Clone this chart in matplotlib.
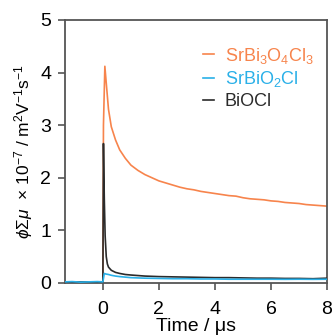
import matplotlib
matplotlib.use("Agg")
import matplotlib.pyplot as plt

plt.rcParams['font.family'] = ['Liberation Sans', 'DejaVu Sans']
plt.rcParams['mathtext.fontset'] = 'custom'
plt.rcParams['mathtext.rm'] = 'Liberation Sans'
plt.rcParams['mathtext.it'] = 'Liberation Sans:italic'

labels = ['SrBi$_3$O$_4$Cl$_3$', 'SrBiO$_2$Cl', 'BiOCl']
colors = ['#F7844C', '#2AB0E8', '#2B2B2B']

t_orange = [-1.35, -0.01, 0.0, 0.02, 0.07, 0.12, 0.2, 0.3, 0.45, 0.6, 0.8, 1.0,
            1.25, 1.5, 1.75, 2.0, 2.25, 2.5, 2.75, 3.0, 3.25, 3.5, 3.75, 4.0,
            4.25, 4.5, 4.75, 5.0, 5.25, 5.5, 5.75, 6.0, 6.25, 6.5, 6.75, 7.0,
            7.25, 7.5, 7.75, 8.0]
y_orange = [0.0, 0.0, 0.0, 3.0, 4.12, 3.8, 3.3, 2.97, 2.72, 2.53, 2.37, 2.24,
            2.14, 2.06, 2.00, 1.94, 1.90, 1.86, 1.82, 1.79, 1.77, 1.74, 1.72, 1.70,
            1.68, 1.66, 1.65, 1.62, 1.60, 1.59, 1.58, 1.56, 1.55, 1.53, 1.52, 1.51,
            1.49, 1.48, 1.47, 1.46]

t_black = [-1.35, -0.01, 0.0, 0.02, 0.05, 0.08, 0.12, 0.16, 0.2, 0.3, 0.45, 0.6,
           0.8, 1.0, 1.5, 2.0, 2.5, 3.0, 3.5, 4.0, 4.5, 5.0, 5.5, 6.0, 6.5, 7.0,
           7.5, 8.0]
y_black = [0.02, 0.02, 0.02, 2.65, 1.6, 0.9, 0.5, 0.36, 0.3, 0.24, 0.2, 0.18,
           0.16, 0.15, 0.13, 0.12, 0.115, 0.11, 0.105, 0.10, 0.10, 0.095, 0.09, 0.09,
           0.085, 0.085, 0.08, 0.09]

t_blue = [-1.35, -1.1, -0.8, -0.5, -0.2, -0.01, 0.0, 0.05, 0.1, 0.2, 0.3, 0.45,
          0.6, 0.8, 1.0, 1.5, 2.0, 2.5, 3.0, 3.5, 4.0, 4.5, 5.0, 5.5, 6.0, 6.5,
          7.0, 7.5, 8.0]
y_blue = [0.02, 0.025, 0.015, 0.02, 0.025, 0.02, 0.02, 0.18, 0.17, 0.16, 0.145, 0.13,
          0.12, 0.11, 0.10, 0.09, 0.085, 0.08, 0.08, 0.075, 0.075, 0.07, 0.07, 0.07,
          0.07, 0.068, 0.07, 0.068, 0.07]

fig = plt.figure(figsize=(3.32, 3.36), dpi=100)
ax = fig.add_axes([0.196, 0.158, 0.789, 0.7825])

ax.plot(t_orange, y_orange, color=colors[0], lw=1.2, label=labels[0], zorder=2)
ax.plot(t_blue, y_blue, color=colors[1], lw=1.2, label=labels[1], zorder=4)
ax.plot(t_black, y_black, color=colors[2], lw=1.2, label=labels[2], zorder=3)

ax.set_xlim(-1.35, 8)
ax.set_ylim(0, 5)
ax.set_xticks([0, 2, 4, 6, 8])
ax.set_yticks([0, 1, 2, 3, 4, 5])
for s in ax.spines.values():
    s.set_color('#555555')
    s.set_linewidth(1.3)
ax.tick_params(direction='out', length=5, width=1.2, color='#555555',
               labelsize=14)
ax.tick_params(axis='x', pad=8)
ax.tick_params(axis='y', pad=5)

ax.set_xlabel('Time / μs', fontsize=14, labelpad=0)
ax.set_ylabel(r'$\phi\Sigma\mu$  × 10$^{-7}$ / m$^2$V$^{-1}$s$^{-1}$',
              fontsize=12.5, labelpad=4)

handles, labs = ax.get_legend_handles_labels()
leg = ax.legend(handles, labs,
                loc='upper left', bbox_to_anchor=(0.50, 0.93), frameon=False,
                fontsize=13, handlelength=0.6, handletextpad=0.6,
                labelspacing=0.2, borderaxespad=0.0)
for txt, c in zip(leg.get_texts(), colors):
    txt.set_color(c)

fig.savefig('out.png', dpi=100)
